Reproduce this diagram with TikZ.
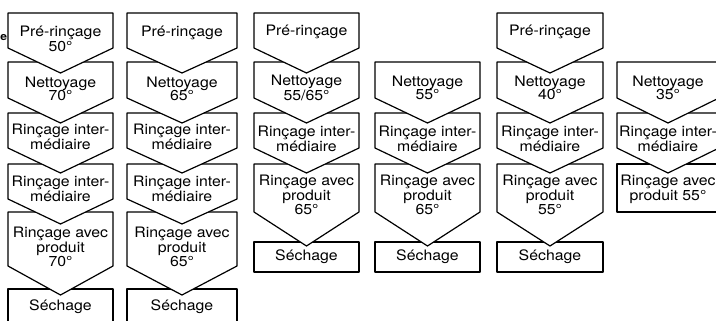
\documentclass[tikz,border=0pt]{standalone}
\usepackage{fontspec}
\setmainfont{TeX Gyre Heros}[FakeStretch=1.1]
\newcommand{\chev}[5]{\draw[etape] (#1,#3)-- (#2,#3)-- (#2,#4)-- ({(#1+#2)/2},#5)-- (#1,#4)-- cycle;}
\newcommand{\boite}[4]{\draw[etape] (#1,#3) rectangle (#2,#4);}
\tikzset{
  etape/.style={draw,fill=white,line width=1.2pt},
  lbl/.style={align=center,inner sep=0pt,font=\fontsize{14.4}{13.5}\selectfont}
}
\begin{document}
\begin{tikzpicture}[line cap=round,line join=round,x=1pt,y=-1pt]
\clip (0,0) rectangle (716,321);
% colonne 1
\boite{8}{113}{289}{325}
\chev{8}{113}{212}{266}{295}
\chev{8}{113}{164}{199}{224}
\chev{8}{113}{113}{148}{173}
\chev{8}{113}{62}{98}{123}
\chev{8}{113}{13}{48}{73}
\node[lbl] (pre1) at (60.5,39) {Pré-rinçage\\50°};
\node[lbl] (net1) at (60.5,89) {Nettoyage\\70°};
\node[lbl] (ria1) at (60.5,137) {Rinçage inter-\\médiaire};
\node[lbl] (rib1) at (60.5,189) {Rinçage inter-\\médiaire};
\node[lbl] (rap1) at (60.5,247) {Rinçage avec\\produit\\70°};
\node[lbl] (sec1) at (60.5,307) {Séchage};
% colonne 2
\boite{127}{237}{289}{325}
\chev{127}{237}{212}{266}{295}
\chev{127}{237}{164}{199}{224}
\chev{127}{237}{113}{148}{173}
\chev{127}{237}{62}{98}{123}
\chev{127}{237}{13}{48}{73}
\node[lbl] (pre2) at (182,33) {Pré-rinçage};
\node[lbl] (net2) at (182,89) {Nettoyage\\65°};
\node[lbl] (ria2) at (182,137) {Rinçage inter-\\médiaire};
\node[lbl] (rib2) at (182,189) {Rinçage inter-\\médiaire};
\node[lbl] (rap2) at (182,247) {Rinçage avec\\produit\\65°};
\node[lbl] (sec2) at (182,307) {Séchage};
% colonne 3
\boite{254}{359}{242}{272}
\chev{254}{359}{164}{212}{246}
\chev{254}{359}{113}{148}{173}
\chev{254}{359}{62}{98}{123}
\chev{254}{359}{13}{48}{73}
\node[lbl] (pre3) at (306.5,32) {Pré-rinçage};
\node[lbl] (net3) at (306.5,88) {Nettoyage\\55/65°};
\node[lbl] (ria3) at (306.5,139) {Rinçage inter-\\médiaire};
\node[lbl] (rap3) at (306.5,195) {Rinçage avec\\produit\\65°};
\node[lbl] (sec3) at (306.5,257) {Séchage};
% colonne 4
\boite{375}{480}{242}{272}
\chev{375}{480}{164}{212}{246}
\chev{375}{480}{113}{148}{173}
\chev{375}{480}{62}{98}{123}
\node[lbl] (net4) at (427.5,88) {Nettoyage\\55°};
\node[lbl] (ria4) at (427.5,139) {Rinçage inter-\\médiaire};
\node[lbl] (rap4) at (427.5,195) {Rinçage avec\\produit\\65°};
\node[lbl] (sec4) at (427.5,257) {Séchage};
% colonne 5
\boite{497}{603}{242}{272}
\chev{497}{603}{164}{212}{246}
\chev{497}{603}{113}{148}{173}
\chev{497}{603}{62}{98}{123}
\chev{497}{603}{13}{48}{73}
\node[lbl] (pre5) at (550,32) {Pré-rinçage};
\node[lbl] (net5) at (550,88) {Nettoyage\\40°};
\node[lbl] (ria5) at (550,139) {Rinçage inter-\\médiaire};
\node[lbl] (rap5) at (550,195) {Rinçage avec\\produit\\55°};
\node[lbl] (sec5) at (550,257) {Séchage};
% colonne 6
\boite{617}{719}{164}{212}
\chev{617}{719}{113}{148}{173}
\chev{617}{719}{62}{98}{123}
\node[lbl] (net6) at (668,88) {Nettoyage\\35°};
\node[lbl] (ria6) at (668,139) {Rinçage inter-\\médiaire};
\node[lbl] (rap6) at (668,189) {Rinçage avec\\produit 55°};
% titre
\node[anchor=west,inner sep=0pt,font=\bfseries\fontsize{11}{11}\selectfont] (titre) at (0.3,38) {e};
\end{tikzpicture}
\end{document}
